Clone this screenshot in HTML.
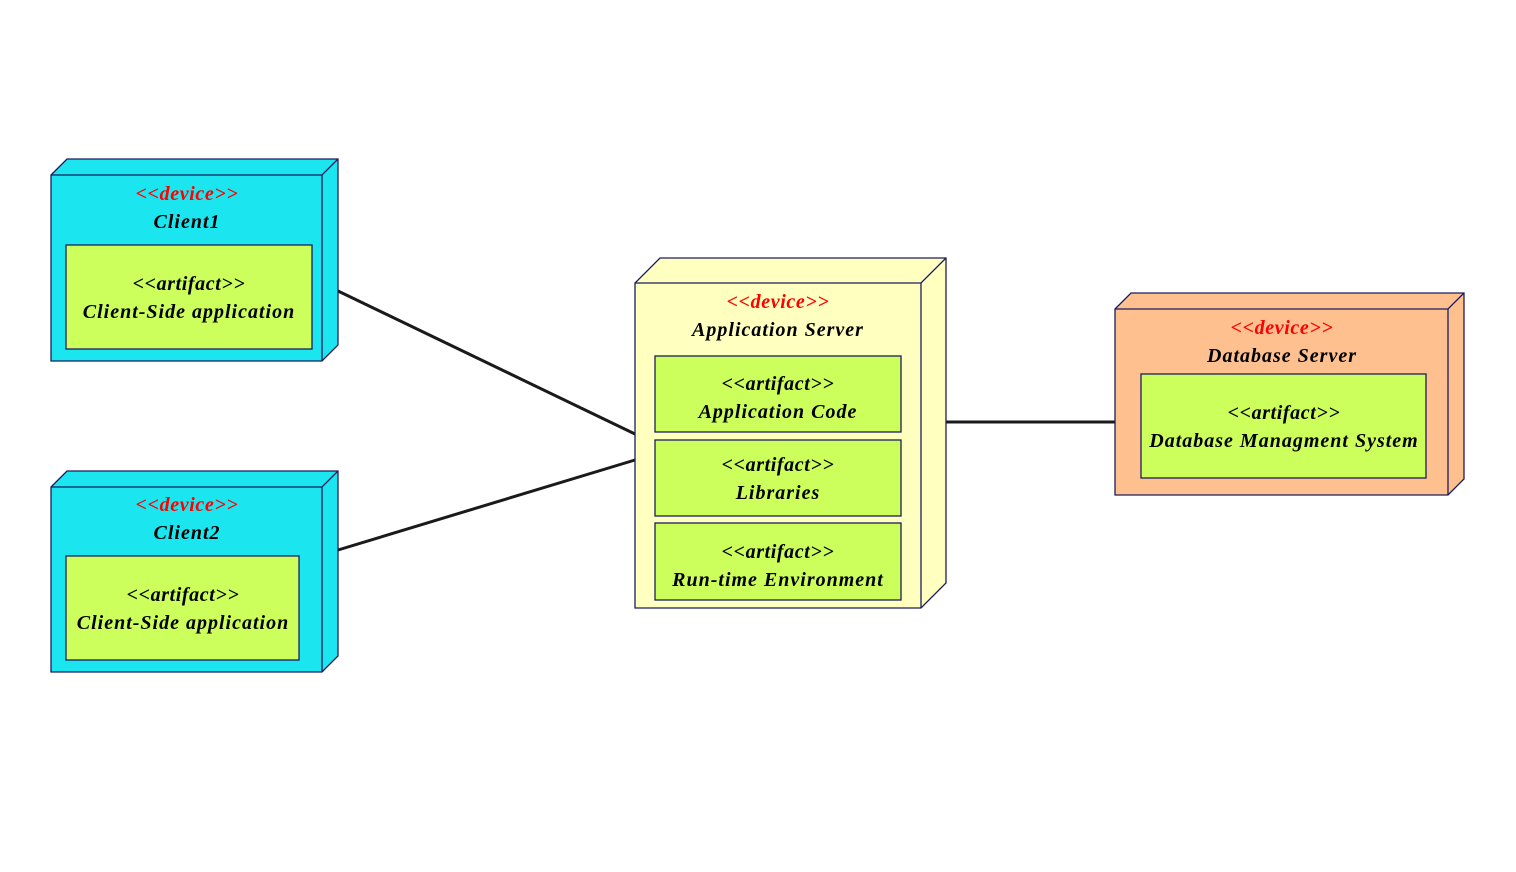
<!DOCTYPE html>
<html><head><meta charset="utf-8"><style>
html,body{margin:0;padding:0;background:#fff;}
svg{display:block;}
text{font-family:"Liberation Serif",serif;font-style:italic;font-weight:bold;font-size:20px;text-anchor:middle;}
.s{fill:#ff0000;letter-spacing:0.6px;}
.n{fill:#000;letter-spacing:1px;}
.a{fill:#000;letter-spacing:0.6px;}
</style></head><body>
<svg width="1516" height="872" viewBox="0 0 1516 872" xmlns="http://www.w3.org/2000/svg">
<g stroke="#1a1a1a" stroke-width="3">
<line x1="338" y1="291" x2="635" y2="434"/>
<line x1="338" y1="550" x2="635" y2="460"/>
<line x1="946" y1="422" x2="1115" y2="422"/>
</g>
<g stroke="#1c1c5c" stroke-width="1.3">
<polygon points="51,175 67,159 338,159 338,345 322,361 51,361" fill="#1be6f0"/>
<polyline points="51,175 322,175 338,159" fill="none"/>
<line x1="322" y1="175" x2="322" y2="361"/>
<rect x="66" y="245" width="246" height="104" fill="#ccff5c"/>
<polygon points="51,487 67,471 338,471 338,656 322,672 51,672" fill="#1be6f0"/>
<polyline points="51,487 322,487 338,471" fill="none"/>
<line x1="322" y1="487" x2="322" y2="672"/>
<rect x="66" y="556" width="233" height="104" fill="#ccff5c"/>
<polygon points="635,283 660,258 946,258 946,583 921,608 635,608" fill="#ffffc0"/>
<polyline points="635,283 921,283 946,258" fill="none"/>
<line x1="921" y1="283" x2="921" y2="608"/>
<rect x="655" y="356" width="246" height="76" fill="#ccff5c"/>
<rect x="655" y="440" width="246" height="76" fill="#ccff5c"/>
<rect x="655" y="523" width="246" height="77" fill="#ccff5c"/>
<polygon points="1115,309 1131,293 1464,293 1464,479 1448,495 1115,495" fill="#ffc090"/>
<polyline points="1115,309 1448,309 1464,293" fill="none"/>
<line x1="1448" y1="309" x2="1448" y2="495"/>
<rect x="1141" y="374" width="285" height="104" fill="#ccff5c"/>
</g>
<text class="s" x="187" y="200">&lt;&lt;device&gt;&gt;</text>
<text class="n" x="187" y="228">Client1</text>
<text class="a" x="189" y="290">&lt;&lt;artifact&gt;&gt;</text>
<text class="n" x="189" y="318">Client-Side application</text>
<text class="s" x="187" y="511">&lt;&lt;device&gt;&gt;</text>
<text class="n" x="187" y="539">Client2</text>
<text class="a" x="183" y="601">&lt;&lt;artifact&gt;&gt;</text>
<text class="n" x="183" y="629">Client-Side application</text>
<text class="s" x="778" y="308">&lt;&lt;device&gt;&gt;</text>
<text class="n" x="778" y="336">Application Server</text>
<text class="a" x="778" y="390">&lt;&lt;artifact&gt;&gt;</text>
<text class="n" x="778" y="418">Application Code</text>
<text class="a" x="778" y="471">&lt;&lt;artifact&gt;&gt;</text>
<text class="n" x="778" y="499">Libraries</text>
<text class="a" x="778" y="558">&lt;&lt;artifact&gt;&gt;</text>
<text class="n" x="778" y="586">Run-time Environment</text>
<text class="s" x="1282" y="334">&lt;&lt;device&gt;&gt;</text>
<text class="n" x="1282" y="362">Database Server</text>
<text class="a" x="1284" y="419">&lt;&lt;artifact&gt;&gt;</text>
<text class="n" x="1284" y="447">Database Managment System</text>
</svg>
</body></html>
